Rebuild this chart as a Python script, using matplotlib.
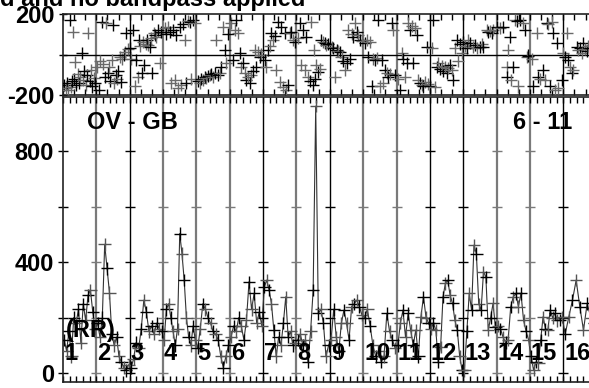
import matplotlib
matplotlib.use("Agg")
import matplotlib.pyplot as plt
import numpy as np

plt.rcParams['font.family'] = ['Liberation Sans', 'DejaVu Sans']
plt.rcParams['font.weight'] = 'bold'

# ---------------- data ----------------
title_text = "d and no bandpass applied"
baseline_label = "OV - GB"
stokes_label = "(RR)"
range_label = "6 - 11"
scan_labels = [str(i) for i in range(1, 17)]

# phase (degrees) : time (in scan units) / value
phase_t = [0.04,0.08,0.12,0.16,0.21,0.24,0.28,0.30,0.34,0.36,0.40,0.44,0.48,0.52,0.56,0.60,0.64,0.68,0.72,0.76,0.80,0.84,0.88,0.92,0.96,
           1.02,1.08,1.12,1.16,1.20,1.25,1.30,1.34,1.38,1.42,1.46,1.50,1.54,1.58,1.62,1.66,1.70,1.74,1.78,1.82,1.86,1.90,1.94,
           2.00,2.05,2.10,2.15,2.20,2.25,2.28,2.32,2.36,2.40,2.44,2.48,2.52,2.56,2.60,2.64,2.68,2.72,2.76,2.80,2.85,2.90,2.95,
           3.05,3.10,3.15,3.20,3.25,3.30,3.35,3.40,3.45,3.50,3.55,3.60,3.65,3.70,3.75,3.80,3.85,3.90,3.95,
           4.05,4.10,4.15,4.20,4.25,4.30,4.35,4.40,4.45,4.50,4.55,4.60,4.65,4.70,4.75,4.80,4.85,4.90,4.95,
           5.05,5.10,5.15,5.20,5.25,5.30,5.35,5.40,5.45,5.50,5.55,5.60,5.65,5.70,5.75,5.80,5.85,5.90,5.95,
           6.05,6.10,6.15,6.20,6.25,6.30,6.35,6.40,6.45,6.50,6.55,6.60,6.65,6.70,6.75,6.80,6.85,6.90,6.95,
           7.05,7.10,7.15,7.20,7.25,7.30,7.35,7.40,7.45,7.50,7.52,7.55,7.60,7.65,7.70,7.75,7.80,7.85,7.90,7.95,
           8.05,8.10,8.15,8.20,8.25,8.30,8.35,8.40,8.45,8.50,8.55,8.60,8.65,8.70,8.75,8.80,8.85,8.90,8.95,
           9.05,9.10,9.15,9.20,9.25,9.30,9.35,9.40,9.45,9.50,9.55,9.60,9.65,9.70,9.75,9.80,9.85,9.90,9.95,
           10.05,10.10,10.15,10.20,10.25,10.30,10.35,10.40,10.45,10.50,10.55,10.60,10.65,10.70,10.75,10.80,10.85,10.90,10.95,
           11.00,11.05,11.10,11.15,11.20,11.25,11.30,11.35,11.40,11.45,11.50,11.55,11.60,11.65,11.70,11.75,11.80,11.85,11.90,11.95,
           12.00,12.05,12.10,12.15,12.20,12.30,12.35,12.40,12.50,12.55,12.60,12.70,12.75,12.80,12.85,12.90,
           13.00,13.10,13.20,13.30,13.32,13.35,13.40,13.42,13.50,13.55,13.60,13.65,13.70,13.80,13.85,13.90,13.95,
           14.05,14.10,14.20,14.25,14.30,14.40,14.45,14.50,14.55,14.60,14.65,14.70,14.75,14.80,14.85,14.95,
           15.00,15.05,15.10,15.15,15.20,15.25,15.30,15.40,15.45,15.50,15.55,15.60,15.65,15.70,15.75,15.80,15.85,15.95]
phase_v = [-150,-165,-140,-175,170,-160,-130,113,-120,-35,-150,-95,-140,-110,6,-125,-80,-150,-100,105,-130,-76,-158,-115,-140,
           -60,-175,-30,162,-45,-110,154,-93,-60,-130,-27,146,-142,-100,-120,-80,-10,-135,-20,-2,10,105,25,
           30,-20,121,-158,-27,-110,72,40,-93,60,-52,50,70,45,39,80,-93,105,95,88,120,-43,110,
           130,100,138,110,-140,120,-126,95,-167,135,-150,150,72,-142,165,160,-120,170,154,
           -130,-140,-120,-125,-110,-115,-105,-100,-95,-110,-90,72,-100,-93,-60,138,22,-43,100,
           154,-27,120,170,105,6,-60,-43,-90,-126,-110,-142,-100,-80,22,-60,10,-10,0,
           -27,-60,22,40,105,72,90,-76,162,-134,138,-160,105,-175,-150,105,110,70,60,
           80,154,-52,121,-76,88,-110,-130,162,-150,22,-120,-52,-85,-70,72,60,55,45,50,
           39,30,-110,22,15,10,-10,-30,-76,-43,121,-20,100,88,154,110,95,72,65,
           55,70,-10,60,-158,-20,-27,-15,170,-158,-25,-140,-76,-90,-110,-95,154,121,-100,
           -120,-175,6,-20,-110,-43,154,121,140,-43,130,96,-126,-140,-150,-158,-135,39,-145,
           -158,30,170,-160,-60,-43,-70,-55,-80,-60,-93,-65,-50,-75,-126,30,72,-30,50,6,
           60,40,30,70,55,39,45,30,39,50,35,121,110,115,105,120,
           138,130,138,-60,-110,22,88,-126,-60,170,165,-158,170,154,121,-10,-5,
           -20,-158,105,-110,-120,-76,-126,154,150,-158,160,105,-175,55,-165,-126,
           6,-10,105,-27,-60,-93,-75,39,20,30,6,55,25,15,40,30,45,35]

# amplitude per scan (16 scans)
amp_scans = [
    [120, 80, 150, 60, 200, 180, 230, 110, 250, 190, 280, 300, 220, 160],
    [180, 130, 200, 464, 377, 290, 140, 100, 130, 60, 40, 20, 10, 30],
    [20, 50, 110, 90, 160, 263, 220, 150, 170, 140, 180, 160, 150],
    [120, 230, 250, 200, 150, 100, 160, 503, 431, 335, 200, 130, 100, 170, 120],
    [90, 160, 250, 230, 200, 180, 150, 140, 120, 60, 20, 60, 100],
    [130, 170, 150, 200, 170, 120, 190, 329, 230, 287, 180, 220, 170],
    [310, 335, 300, 250, 155, 60, 130, 100, 180, 275, 130, 150, 100, 110],
    [120, 140, 100, 120, 40, 150, 299, 962, 215, 230, 180, 60, 100],
    [120, 230, 130, 80, 180, 227, 180, 120, 240, 250, 263, 240, 210],
    [200, 230, 170, 100, 60, 80, 40, 60, 215, 150, 120, 90],
    [100, 180, 227, 130, 215, 155, 100, 155, 60, 203, 275, 200, 180],
    [160, 180, 155, 40, 95, 275, 323, 335, 280, 251, 190, 155, 60, 12],
    [10, 150, 287, 227, 461, 431, 250, 227, 365, 347, 155, 200, 251, 167],
    [170, 160, 130, 110, 120, 239, 275, 287, 240, 287, 191, 150, 119],
    [60, 11, 40, 35, 120, 203, 160, 155, 227, 200, 215, 190, 191, 203],
    [140, 203, 263, 335, 239, 155, 251, 200, 179, 230],
]
scan_span = [1.0] * 15 + [1.1]

sep_colors = ['#444444', '#7a7a7a', 'black', '#7a7a7a', '#7a7a7a', '#7a7a7a', 'black', '#7a7a7a',
              'black', '#7a7a7a', '#7a7a7a', 'black', 'black', '#7a7a7a', '#7a7a7a', 'black']

amp_ticks = [0, 200, 400, 600, 800]
amp_ticklabels = ['0', '', '400', '', '800']
ph_ticks = [-200, 0, 200]
ph_ticklabels = ['-200', '', '200']

# ---------------- figure ----------------
W_PX, H_PX = 589, 388
fig = plt.figure(figsize=(W_PX / 100, H_PX / 100), dpi=100)
fs = 17

left = 63 / W_PX
width = 537 / W_PX
XMAX = 16.1

ax_top = fig.add_axes([left, 1 - 95 / H_PX, width, 81 / H_PX])
ax_bot = fig.add_axes([left, 1 - 382 / H_PX, width, 285 / H_PX])

# amplitude times
amp_t, amp_v = [], []
for k, vals in enumerate(amp_scans):
    n = len(vals)
    for i, v in enumerate(vals):
        amp_t.append(k + (i + 0.5) * scan_span[k] / n)
        amp_v.append(v)
amp_t = np.array(amp_t)
amp_v = np.array(amp_v)
phase_t = np.array(phase_t)
phase_v = np.array(phase_v)

for ax in (ax_top, ax_bot):
    ax.set_xlim(0, XMAX)
    for s in ax.spines.values():
        s.set_linewidth(1.2)
        s.set_color('#222222')
    for k, c in enumerate(sep_colors):
        if k == 0:
            continue
        ax.axvline(k, color=c, lw=1.6 if c != 'black' else 1.0, zorder=1)

# ---- top panel (phase)
ax_top.set_ylim(-200, 200)
ax_top.axhline(0, color='black', lw=1.0, zorder=1)
cols = ['black' if i % 2 == 0 else '#6a6a6a' for i in range(len(phase_t))]
ax_top.scatter(phase_t, phase_v, marker='+', s=75, c=cols, linewidths=1.0, zorder=3, clip_on=True)
ax_top.set_yticks(ph_ticks)
ax_top.set_yticklabels(ph_ticklabels, fontsize=fs, fontweight='bold')
ax_top.tick_params(axis='y', direction='inout', length=6, pad=3, width=1)
ax_top.set_xticks(np.arange(0, 17, 1))
ax_top.set_xticks(np.arange(0, 16.2, 1 / 3), minor=True)
ax_top.tick_params(axis='x', which='both', direction='in', top=True, bottom=True,
                   labelbottom=False, length=4, width=1)

# ---- bottom panel (amplitude)
ax_bot.set_ylim(-32, 995)
ax_bot.plot(amp_t, amp_v, color='#333333', lw=0.8, zorder=2)
cols2 = ['black' if i % 2 == 0 else '#555555' for i in range(len(amp_t))]
ax_bot.scatter(amp_t, amp_v, marker='+', s=80, c=cols2, linewidths=1.0, zorder=3)
# tick dashes on each separator line
for k, c in enumerate(sep_colors):
    if k == 0:
        continue
    ax_bot.plot([k] * len(amp_ticks), amp_ticks, ls='none', marker='_', ms=7,
                mew=1.0, color=c, zorder=2)
ax_bot.set_yticks(amp_ticks)
ax_bot.set_yticklabels(amp_ticklabels, fontsize=fs, fontweight='bold')
ax_bot.tick_params(axis='y', direction='inout', length=7, pad=3, width=1)
ax_bot.set_xticks(np.arange(0, 17, 1))
ax_bot.set_xticks(np.arange(0, 16.2, 0.2), minor=True)
ax_bot.tick_params(axis='x', which='both', direction='in', top=True, bottom=True,
                   labelbottom=False, length=4, width=1)

# scan number labels
for k, lab in enumerate(scan_labels):
    ax_bot.text(k + 0.03, 47, lab, fontsize=fs, fontweight='bold', ha='left',
                va='baseline', zorder=5)

# texts
fig.text(0 / W_PX, 1 - 6 / H_PX, title_text, fontsize=fs, fontweight='bold',
         ha='left', va='baseline')
fig.text(87 / W_PX, 1 - 129 / H_PX, baseline_label, fontsize=fs, fontweight='bold',
         ha='left', va='baseline')
fig.text(513 / W_PX, 1 - 129 / H_PX, range_label, fontsize=fs, fontweight='bold',
         ha='left', va='baseline')
fig.text(66 / W_PX, 1 - 337 / H_PX, stokes_label, fontsize=fs, fontweight='bold',
         ha='left', va='baseline', zorder=5)

fig.savefig('out.png', dpi=100)
